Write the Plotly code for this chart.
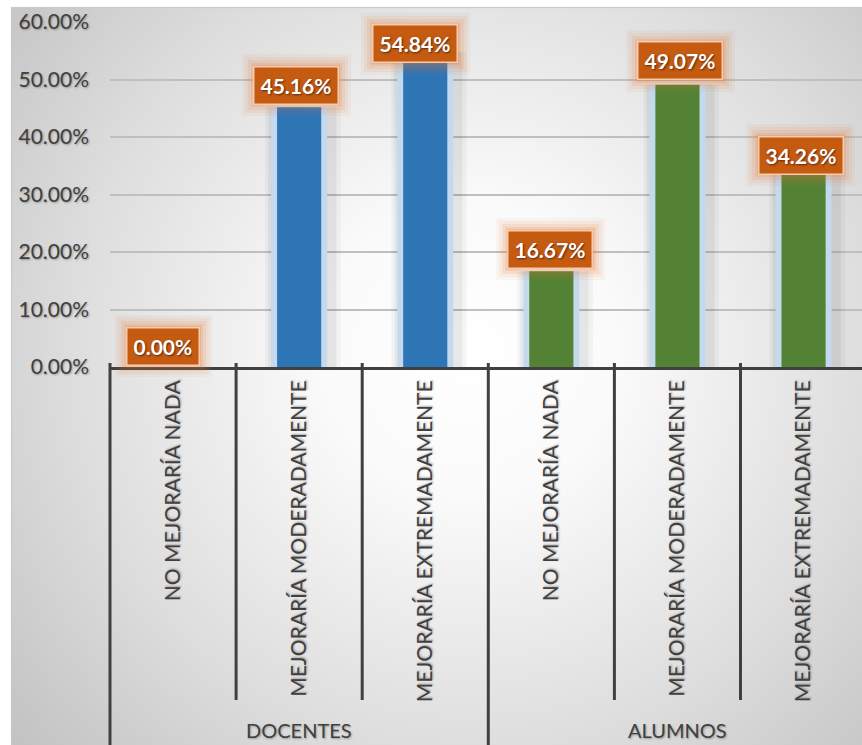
import base64
import plotly.graph_objects as go

# ---- data -------------------------------------------------------------
group_names = ["DOCENTES", "ALUMNOS"]
answer_labels = ["NO MEJORARÍA NADA", "MEJORARÍA MODERADAMENTE", "MEJORARÍA EXTREMADAMENTE"]
docentes_pct = [0.00, 45.16, 54.84]
alumnos_pct = [16.67, 49.07, 34.26]
y_tick_pct = [0, 10, 20, 30, 40, 50, 60]

# ---- style ------------------------------------------------------------
W, H = 862, 745
M_L, M_R, M_T, M_B = 110, 0, 22, 378
CAT_PX = 126.1                      # width of one category slot
group_colors = {"DOCENTES": "#2E75B6", "ALUMNOS": "#548235"}
halo_color = "#C3D9EE"
label_fill = "#C55A11"
label_edge = "#F8CBAD"
glow_rgb = "226,120,48"
ink = "#404040"
FONT = "Lato"
# small hand nudges (dx, dy in px) for each value label
label_nudge = [(-10, 21), (-3, 22), (-10, 8), (-1, 22), (3, 24), (-3, 15)]

plot_w = W - M_L - M_R
plot_h = H - M_T - M_B
x_range = [-0.5, -0.5 + plot_w / CAT_PX]
y_range = [0, y_tick_pct[-1] / 100]

series = {"DOCENTES": docentes_pct, "ALUMNOS": alumnos_pct}
n_ans = len(answer_labels)
cat_text = answer_labels * len(group_names)
positions = list(range(len(cat_text)))


def px_to_paper_x(k):
    return (k - x_range[0]) / (x_range[1] - x_range[0])


fig = go.Figure()

# bars: soft shadow, pale halo, solid bar
for gi, g in enumerate(group_names):
    xs = positions[gi * n_ans:(gi + 1) * n_ans]
    ys = [v / 100 for v in series[g]]
    for w, off, col in [(0.60, -0.27, "rgba(0,0,0,0.035)"),
                        (0.54, -0.245, "rgba(0,0,0,0.05)")]:
        fig.add_trace(go.Bar(x=xs, y=ys, width=w, offset=off,
                             marker=dict(color=col, line=dict(width=0)),
                             hoverinfo="skip", showlegend=False))
    fig.add_trace(go.Bar(x=xs, y=ys, width=0.444,
                         marker=dict(color=halo_color, line=dict(width=0)),
                         hoverinfo="skip", showlegend=False))
    fig.add_trace(go.Bar(x=xs, y=ys, width=0.35, name=g,
                         marker=dict(color=group_colors[g], line=dict(width=0)),
                         showlegend=False))

# value labels with an orange glow
all_vals = docentes_pct + alumnos_pct
annotations = []
for i, v in enumerate(all_vals):
    dx, dy = label_nudge[i]
    txt = f"{v:.2f}%"
    for g_px, a in [(13, 0.06), (10, 0.08), (7, 0.11), (4, 0.15), (2, 0.2)]:
        annotations.append(dict(
            x=positions[i], y=v / 100, xref="x", yref="y", text=txt,
            showarrow=False, xshift=dx, yshift=dy,
            font=dict(family=FONT, size=21, color="rgba(0,0,0,0)", weight="bold"),
            bgcolor=f"rgba({glow_rgb},{a})", borderpad=6 + g_px, borderwidth=0,
            height=24))
    annotations.append(dict(
        x=positions[i], y=v / 100, xref="x", yref="y", text=txt,
        showarrow=False, xshift=dx, yshift=dy,
        font=dict(family=FONT, size=21, color="white", weight="bold",
                  shadow="1px 1px 2px rgba(0,0,0,0.55)"),
        bgcolor=label_fill, bordercolor=label_edge, borderwidth=1.5,
        borderpad=6, height=24))

# group captions below the category labels
axis_y_px = H - M_B
for gi, g in enumerate(group_names):
    mid = px_to_paper_x(gi * n_ans + (n_ans - 1) / 2)
    annotations.append(dict(
        x=mid, y=(axis_y_px - 730) / plot_h, xref="paper", yref="paper",
        text=g, showarrow=False, xanchor="center", yanchor="middle",
        font=dict(family=FONT, size=20, color=ink,
                  shadow="1px 1px 2px rgba(0,0,0,0.3)")))

# category / group dividers
shapes = []
for k in range(len(cat_text) + 1):
    xb = px_to_paper_x(k - 0.5)
    if xb > 1.0:
        continue
    is_group_edge = (k % n_ans == 0)
    y_bottom = -1.2 if is_group_edge else (axis_y_px - 700) / plot_h
    shapes.append(dict(type="line", xref="paper", yref="paper",
                       x0=xb, x1=xb, y0=4 / plot_h, y1=y_bottom,
                       line=dict(color=ink, width=3)))

# radial-gradient chart-area background
svg = f'''<svg xmlns="http://www.w3.org/2000/svg" width="{W}" height="{H}" viewBox="0 0 {W} {H}">
<defs><radialGradient id="g" cx="470" cy="350" r="600" gradientUnits="userSpaceOnUse">
<stop offset="0" stop-color="#ffffff"/>
<stop offset="0.25" stop-color="#fafafa"/>
<stop offset="0.67" stop-color="#dddddd"/>
<stop offset="0.93" stop-color="#c8c8c8"/>
<stop offset="1" stop-color="#c3c3c3"/>
</radialGradient></defs>
<rect x="0" y="0" width="{W}" height="{H}" fill="#ffffff"/>
<rect x="11.5" y="7.5" width="{W}" height="{H}" fill="url(#g)" stroke="#c9c9c9" stroke-width="1.2"/>
</svg>'''
bg_src = "data:image/svg+xml;base64," + base64.b64encode(svg.encode()).decode()

fig.update_layout(
    width=W, height=H,
    margin=dict(l=M_L, r=M_R, t=M_T, b=M_B, autoexpand=False),
    barmode="overlay",
    paper_bgcolor="white",
    plot_bgcolor="rgba(0,0,0,0)",
    annotations=annotations,
    shapes=shapes,
    images=[dict(source=bg_src, xref="paper", yref="paper",
                 x=-M_L / plot_w, y=1 + M_T / plot_h,
                 sizex=W / plot_w, sizey=H / plot_h,
                 xanchor="left", yanchor="top", sizing="stretch",
                 layer="below")],
    xaxis=dict(range=x_range, tickvals=positions, ticktext=cat_text,
               tickangle=-90, showgrid=False, zeroline=False,
               showline=True, linecolor=ink, linewidth=3, ticks="",
               ticklabelstandoff=2,
               tickfont=dict(family=FONT, size=21, color=ink,
                             shadow="1px 1px 2px rgba(0,0,0,0.3)")),
    yaxis=dict(range=y_range, tickvals=[t / 100 for t in y_tick_pct],
               tickformat=".2%", showgrid=True, gridcolor="#bfbfbf",
               gridwidth=1.5, zeroline=False, showline=False, ticks="",
               ticklabelstandoff=20,
               tickfont=dict(family=FONT, size=21, color=ink,
                             shadow="1px 1px 2px rgba(0,0,0,0.3)")),
    showlegend=False,
)

fig.write_html("out.html")
